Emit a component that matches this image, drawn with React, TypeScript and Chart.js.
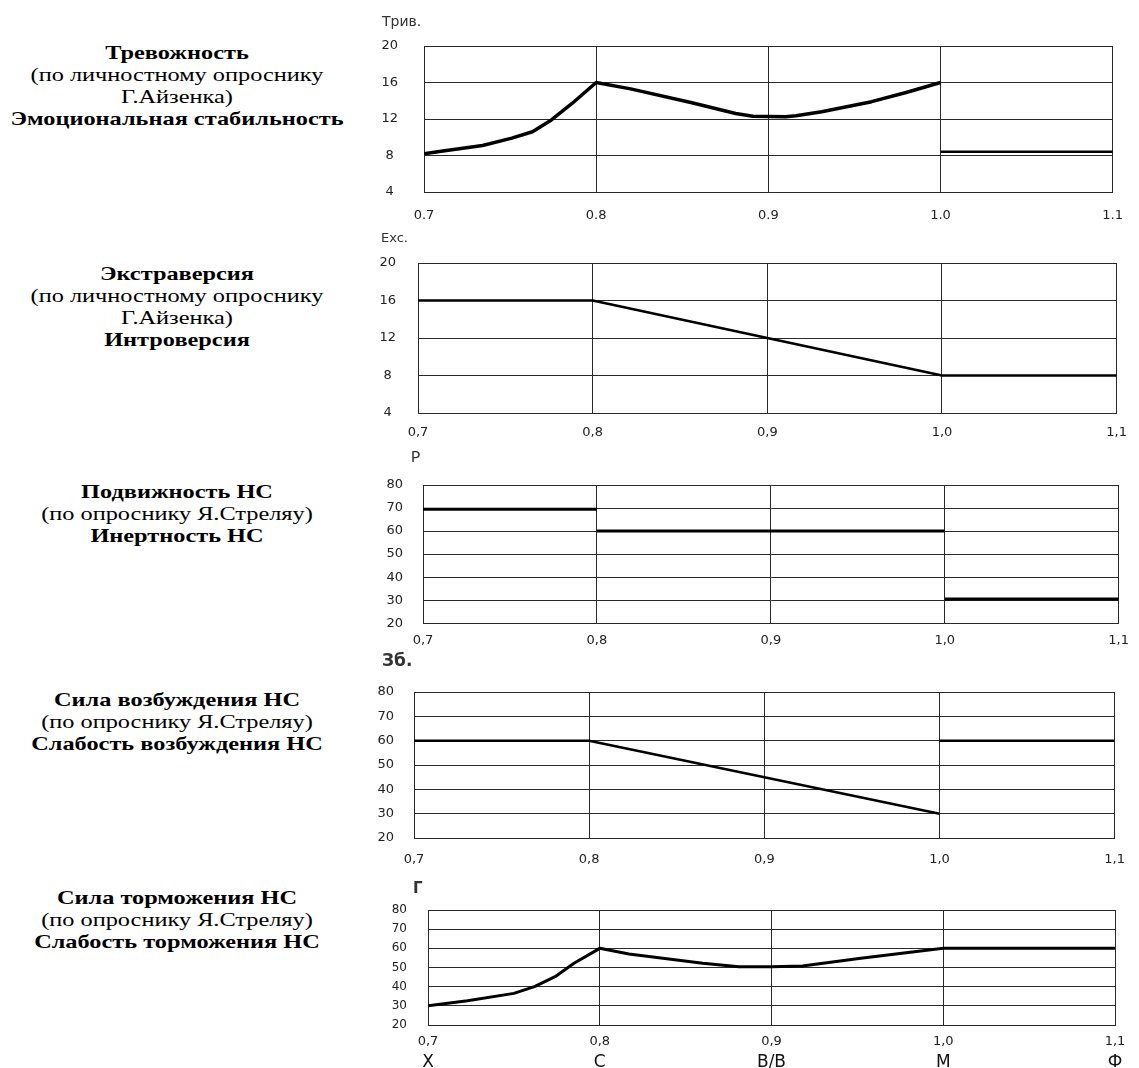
import React, { useEffect, useRef } from 'react';
import { Chart, registerables } from 'chart.js';

Chart.register(...registerables);

// ---------- data ----------
const xTickValues = [0.7, 0.8, 0.9, 1.0, 1.1];
const xTickLabelsDot = ['0.7', '0.8', '0.9', '1.0', '1.1'];
const xTickLabelsComma = ['0,7', '0,8', '0,9', '1,0', '1,1'];
const categoryLabels = ['Х', 'С', 'В/В', 'М', 'Ф'];

const yTicksSmall = [4, 8, 12, 16, 20];
const yTicksLarge = [20, 30, 40, 50, 60, 70, 80];

// Panel 1: Тревожность
const anxietyX = [0.7, 0.711, 0.734, 0.751, 0.763, 0.774, 0.786, 0.8, 0.82, 0.855, 0.881, 0.891, 0.91, 0.916, 0.931, 0.96, 0.98, 1.0];
const anxietyY = [8.2, 8.5, 9.1, 9.9, 10.6, 11.9, 13.7, 16.0, 15.3, 13.8, 12.6, 12.3, 12.25, 12.35, 12.8, 13.9, 14.9, 16.0];
const stabilityX = [1.0, 1.1];
const stabilityY = [8.4, 8.4];

// Panel 2: Экстраверсия
const extraX = [0.7, 0.8, 1.0, 1.1];
const extraY = [16, 16, 8, 8];

// Panel 3: Подвижность НС
const mobilityAX = [0.7, 0.8];
const mobilityAY = [69.5, 69.5];
const mobilityBX = [0.8, 1.0];
const mobilityBY = [60, 60];
const mobilityCX = [1.0, 1.1];
const mobilityCY = [30.5, 30.5];

// Panel 4: Сила возбуждения НС
const excitationAX = [0.7, 0.8, 1.0];
const excitationAY = [60, 60, 30];
const excitationBX = [1.0, 1.1];
const excitationBY = [60, 60];

// Panel 5: Сила торможения НС
const inhibitionX = [0.7, 0.723, 0.75, 0.762, 0.774, 0.785, 0.8, 0.817, 0.86, 0.881, 0.9, 0.918, 0.952, 1.0, 1.1];
const inhibitionY = [30, 32.7, 36.5, 40, 45.2, 52.2, 60, 57, 52.2, 50.4, 50.4, 50.8, 54.8, 60, 60];

// ---------- layout ----------
const PAGE_W = 1139;
const PAGE_H = 1068;
const CANVAS_LEFT = 366;
const GRID = '#2a2a2a';
const TICK_COLOR = '#222';

type Seg = { xs: number[]; ys: number[]; width: number };
type Font = { family: string; size: number; weight?: string };

interface PanelCfg {
  box: { left: number; top: number; right: number; bottom: number };
  yMin: number;
  yMax: number;
  yTicks: number[];
  xLabels: string[];
  title: string;
  titleFont: Font;
  titleLeft: number;
  titleCenterY: number;
  yFont: Font;
  xFont: Font;
  yPad: number;
  xPad: number;
  xAxisH: number;
  segments: Seg[];
  categories?: string[];
  catFont?: Font;
  catPad?: number;
}

const SANS = 'DejaVu Sans';

const panels: PanelCfg[] = [
  {
    box: { left: 424, top: 46, right: 1122, bottom: 192 },
    yMin: 4, yMax: 20, yTicks: yTicksSmall, xLabels: xTickLabelsDot,
    title: 'Трив.', titleFont: { family: SANS, size: 14 }, titleLeft: 382, titleCenterY: 22,
    yFont: { family: SANS, size: 13 }, xFont: { family: SANS, size: 13 },
    yPad: 26, xPad: 16, xAxisH: 34,
    segments: [
      { xs: anxietyX, ys: anxietyY, width: 3.5 },
      { xs: stabilityX, ys: stabilityY, width: 2.5 },
    ],
  },
  {
    box: { left: 418, top: 263, right: 1128, bottom: 413 },
    yMin: 4, yMax: 20, yTicks: yTicksSmall, xLabels: xTickLabelsComma,
    title: 'Exc.', titleFont: { family: SANS, size: 13 }, titleLeft: 381, titleCenterY: 239,
    yFont: { family: SANS, size: 13 }, xFont: { family: SANS, size: 13 },
    yPad: 22, xPad: 12, xAxisH: 30,
    segments: [{ xs: extraX, ys: extraY, width: 2.5 }],
  },
  {
    box: { left: 423, top: 485, right: 1121, bottom: 625 },
    yMin: 20, yMax: 80, yTicks: yTicksLarge, xLabels: xTickLabelsComma,
    title: 'P', titleFont: { family: 'Liberation Mono', size: 16 }, titleLeft: 411, titleCenterY: 458,
    yFont: { family: SANS, size: 13 }, xFont: { family: SANS, size: 13 },
    yPad: 20, xPad: 10, xAxisH: 26,
    segments: [
      { xs: mobilityAX, ys: mobilityAY, width: 3 },
      { xs: mobilityBX, ys: mobilityBY, width: 3 },
      { xs: mobilityCX, ys: mobilityCY, width: 3 },
    ],
  },
  {
    box: { left: 414, top: 692, right: 1117, bottom: 838 },
    yMin: 20, yMax: 80, yTicks: yTicksLarge, xLabels: xTickLabelsComma,
    title: 'Зб.', titleFont: { family: SANS, size: 17, weight: 'bold' }, titleLeft: 382, titleCenterY: 662,
    yFont: { family: SANS, size: 13 }, xFont: { family: SANS, size: 13 },
    yPad: 20, xPad: 14, xAxisH: 30,
    segments: [
      { xs: excitationAX, ys: excitationAY, width: 2.5 },
      { xs: excitationBX, ys: excitationBY, width: 2.5 },
    ],
  },
  {
    box: { left: 428, top: 910, right: 1115, bottom: 1025 },
    yMin: 20, yMax: 80, yTicks: yTicksLarge, xLabels: xTickLabelsComma,
    title: 'Г', titleFont: { family: SANS, size: 15, weight: 'bold' }, titleLeft: 413, titleCenterY: 889,
    yFont: { family: SANS, size: 12 }, xFont: { family: SANS, size: 13 },
    yPad: 21, xPad: 9, xAxisH: 24,
    segments: [{ xs: inhibitionX, ys: inhibitionY, width: 3 }],
    categories: categoryLabels,
    catFont: { family: SANS, size: 17 },
    catPad: 3,
  },
];

type Line = { text: string; bold: boolean };
const labelBlocks: { top: number; lines: Line[] }[] = [
  {
    top: 42,
    lines: [
      { text: 'Тревожность', bold: true },
      { text: '(по личностному опроснику', bold: false },
      { text: 'Г.Айзенка)', bold: false },
      { text: 'Эмоциональная стабильность', bold: true },
    ],
  },
  {
    top: 263,
    lines: [
      { text: 'Экстраверсия', bold: true },
      { text: '(по личностному опроснику', bold: false },
      { text: 'Г.Айзенка)', bold: false },
      { text: 'Интроверсия', bold: true },
    ],
  },
  {
    top: 481,
    lines: [
      { text: 'Подвижность НС', bold: true },
      { text: '(по опроснику Я.Стреляу)', bold: false },
      { text: 'Инертность НС', bold: true },
    ],
  },
  {
    top: 689,
    lines: [
      { text: 'Сила возбуждения НС', bold: true },
      { text: '(по опроснику Я.Стреляу)', bold: false },
      { text: 'Слабость возбуждения НС', bold: true },
    ],
  },
  {
    top: 887,
    lines: [
      { text: 'Сила торможения НС', bold: true },
      { text: '(по опроснику Я.Стреляу)', bold: false },
      { text: 'Слабость торможения НС', bold: true },
    ],
  },
];

const axisTitlePlugin = {
  id: 'axisTitle',
  afterDraw(chart: any, _args: any, opts: any) {
    if (!opts || !opts.text) return;
    const ctx = chart.ctx;
    ctx.save();
    ctx.font = `${opts.weight || 'normal'} ${opts.size}px "${opts.family}"`;
    ctx.fillStyle = opts.color || '#333';
    ctx.textBaseline = 'middle';
    ctx.textAlign = 'left';
    ctx.fillText(opts.text, opts.x, opts.y);
    ctx.restore();
  },
};

function PanelChart({ cfg }: { cfg: PanelCfg }) {
  const ref = useRef<HTMLCanvasElement>(null);
  const canvasTop = Math.round(cfg.titleCenterY - cfg.titleFont.size);
  const canvasBottom = cfg.categories ? PAGE_H : cfg.box.bottom + cfg.xAxisH;
  const width = PAGE_W - CANVAS_LEFT;
  const height = canvasBottom - canvasTop;

  useEffect(() => {
    if (!ref.current) return;
    const padR = PAGE_W - cfg.box.right;
    const yW = cfg.box.left - CANVAS_LEFT;
    const padTop = cfg.box.top - canvasTop;

    const scales: any = {
      x: {
        type: 'linear',
        position: 'bottom',
        weight: 0,
        min: 0.7,
        max: 1.1,
        afterBuildTicks: (s: any) => {
          s.ticks = xTickValues.map((v) => ({ value: v }));
        },
        afterFit: (s: any) => {
          s.height = cfg.xAxisH;
        },
        ticks: {
          callback: (_v: any, i: number) => cfg.xLabels[i],
          font: cfg.xFont,
          color: TICK_COLOR,
          padding: cfg.xPad,
          maxRotation: 0,
          autoSkip: false,
        },
        grid: { color: GRID, lineWidth: 1, drawTicks: false },
        border: { color: GRID, width: 1 },
      },
      y: {
        type: 'linear',
        position: 'left',
        min: cfg.yMin,
        max: cfg.yMax,
        afterBuildTicks: (s: any) => {
          s.ticks = cfg.yTicks.map((v) => ({ value: v }));
        },
        afterFit: (s: any) => {
          s.width = yW;
        },
        ticks: {
          callback: (v: any) => String(v),
          font: cfg.yFont,
          color: TICK_COLOR,
          padding: cfg.yPad,
          crossAlign: 'center',
          autoSkip: false,
        },
        grid: { color: GRID, lineWidth: 1, drawTicks: false },
        border: { color: GRID, width: 1 },
      },
    };

    if (cfg.categories) {
      const cats = cfg.categories;
      const catH = PAGE_H - cfg.box.bottom - cfg.xAxisH;
      scales.x2 = {
        type: 'linear',
        position: 'bottom',
        weight: 1,
        min: 0.7,
        max: 1.1,
        afterBuildTicks: (s: any) => {
          s.ticks = xTickValues.map((v) => ({ value: v }));
        },
        afterFit: (s: any) => {
          s.height = catH;
        },
        ticks: {
          callback: (_v: any, i: number) => cats[i],
          font: cfg.catFont,
          color: '#111',
          padding: cfg.catPad,
          maxRotation: 0,
          autoSkip: false,
        },
        grid: { display: false, drawTicks: false },
        border: { display: false },
      };
    }

    const chart = new Chart(ref.current, {
      type: 'line',
      data: {
        datasets: cfg.segments.map((seg) => ({
          data: seg.xs.map((x, i) => ({ x, y: seg.ys[i] })),
          borderColor: '#000',
          backgroundColor: '#000',
          borderWidth: seg.width,
          pointRadius: 0,
          pointHoverRadius: 0,
          fill: false,
          tension: 0,
          borderJoinStyle: 'round',
          xAxisID: 'x',
          yAxisID: 'y',
        })),
      },
      options: {
        animation: false,
        responsive: false,
        maintainAspectRatio: false,
        layout: { padding: { left: 0, right: padR, top: padTop, bottom: 0 } },
        plugins: {
          legend: { display: false },
          tooltip: { enabled: false },
          title: { display: false },
          axisTitle: {
            text: cfg.title,
            x: cfg.titleLeft - CANVAS_LEFT,
            y: cfg.titleCenterY - canvasTop,
            family: cfg.titleFont.family,
            size: cfg.titleFont.size,
            weight: cfg.titleFont.weight || 'normal',
            color: '#333',
          },
        },
        scales,
      } as any,
      plugins: [axisTitlePlugin as any],
    });
    return () => chart.destroy();
  }, []);

  return (
    <canvas
      ref={ref}
      width={width}
      height={height}
      style={{
        position: 'absolute',
        left: CANVAS_LEFT,
        top: canvasTop,
        width,
        height,
      }}
    />
  );
}

export default function App() {
  return (
    <div
      style={{
        position: 'absolute',
        left: 0,
        top: 0,
        width: PAGE_W,
        height: PAGE_H,
        overflow: 'hidden',
        background: '#fff',
      }}
    >
      {labelBlocks.map((b, bi) => (
        <div
          key={bi}
          style={{
            position: 'absolute',
            left: 0,
            top: b.top,
            width: 354,
            textAlign: 'center',
            fontFamily: '"Liberation Serif", "Times New Roman", serif',
            fontSize: 19,
            lineHeight: '22px',
            color: '#000',
            transform: 'scaleX(1.28)',
            transformOrigin: '177px 0',
          }}
        >
          {b.lines.map((l, li) => (
            <div key={li} style={{ fontWeight: l.bold ? 'bold' : 'normal', whiteSpace: 'nowrap' }}>
              {l.text}
            </div>
          ))}
        </div>
      ))}
      {panels.map((p, i) => (
        <PanelChart key={i} cfg={p} />
      ))}
    </div>
  );
}
